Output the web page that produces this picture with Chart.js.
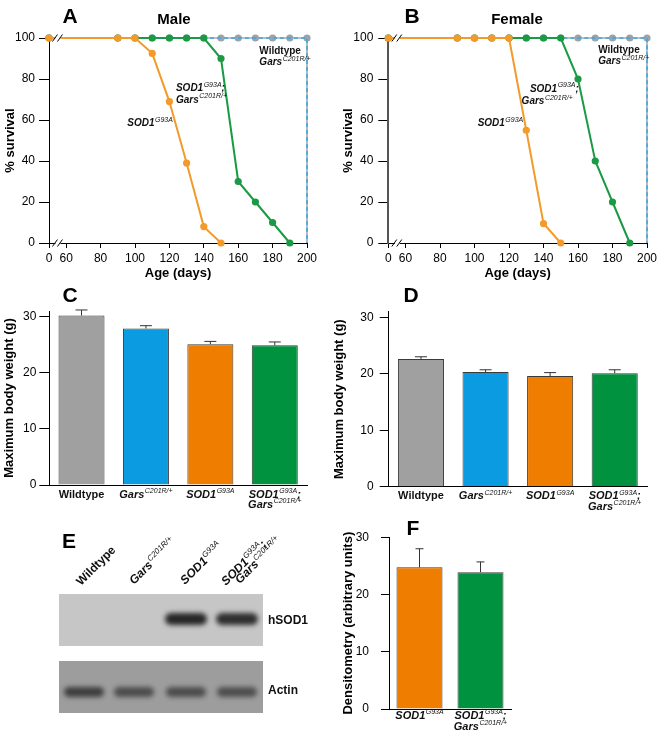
<!DOCTYPE html>
<html>
<head>
<meta charset="utf-8">
<title>Survival, body weight and hSOD1 levels</title>
<script src="https://cdn.jsdelivr.net/npm/chart.js@4.4.1/dist/chart.umd.min.js"></script>
<style>
  body { margin: 0; background: #fff; font-family: "Liberation Sans", Arial, sans-serif; }
  #fig { position: relative; width: 661px; height: 738px; overflow: hidden; }
  #fig canvas { position: absolute; }
  .lbl { position: absolute; font-weight: bold; color: #000; transform: translate(-50%, -50%); white-space: nowrap; line-height: 1; }
  .letter { font-size: 21px; }
  .ttl { font-size: 15px; }
</style>
</head>
<body>
<div id="fig">
  <canvas id="chartA" width="330" height="285" style="left:0;top:0"></canvas>
  <canvas id="chartB" width="331" height="285" style="left:330px;top:0"></canvas>
  <canvas id="chartC" width="330" height="230" style="left:0;top:280px"></canvas>
  <canvas id="chartD" width="331" height="230" style="left:330px;top:280px"></canvas>
  <canvas id="blot" width="330" height="238" style="left:0;top:500px"></canvas>
  <canvas id="chartF" width="331" height="238" style="left:330px;top:500px"></canvas>
  <div class="lbl letter" style="left:70px;top:15px">A</div>
  <div class="lbl ttl" style="left:174px;top:18px">Male</div>
  <div class="lbl letter" style="left:412px;top:15px">B</div>
  <div class="lbl ttl" style="left:517px;top:18px">Female</div>
  <div class="lbl letter" style="left:70px;top:294px">C</div>
  <div class="lbl letter" style="left:411px;top:294px">D</div>
  <div class="lbl letter" style="left:69px;top:540px">E</div>
  <div class="lbl letter" style="left:413px;top:527px">F</div>
</div>
<script>
// survival (%), ages in days; day 0 sits before the axis break
var ageTicks = [0, 60, 80, 100, 120, 140, 160, 180, 200];
var survTicks = [0, 20, 40, 60, 80, 100];

var maleSodDays = [0, 90, 100, 110, 120, 130, 140, 150];
var maleSodSurv = [100, 100, 100, 92.5, 69, 39, 8, 0];
var maleDoubleDays = [0, 90, 100, 110, 120, 130, 140, 150, 160, 170, 180, 190];
var maleDoubleSurv = [100, 100, 100, 100, 100, 100, 100, 90, 30, 20, 10, 0];

var femaleSodDays = [0, 90, 100, 110, 120, 130, 140, 150];
var femaleSodSurv = [100, 100, 100, 100, 100, 55, 9.5, 0];
var femaleDoubleDays = [0, 90, 100, 110, 120, 130, 140, 150, 160, 170, 180, 190];
var femaleDoubleSurv = [100, 100, 100, 100, 100, 100, 100, 100, 80, 40, 20, 0];

// controls all alive until the end of the study (day 200)
var controlDays = [0, 90, 100, 110, 120, 130, 140, 150, 160, 170, 180, 190, 200, 200];
var wildtypeSurv = [100, 100, 100, 100, 100, 100, 100, 100, 100, 100, 100, 100, 100, 0];
var garsSurv = [100, 100, 100, 100, 100, 100, 100, 100, 100, 100, 100, 100, 100, 0];

// body weight (g) and densitometry
var genotypes = ['Wildtype', '*Gars^C201R/+', '*SOD1^G93A', '*SOD1^G93A^;\n*Gars^C201R/+'];
var weightTicks = [0, 10, 20, 30];
var maleWeight = [30.2, 27.9, 25.1, 24.9];
var maleWeightErr = [1.0, 0.5, 0.5, 0.6];
var femaleWeight = [22.6, 20.3, 19.6, 20.1];
var femaleWeightErr = [0.4, 0.4, 0.6, 0.6];

var hsodGroups = ['*SOD1^G93A', '*SOD1^G93A^;\n*Gars^C201R/+'];
var hsodDensity = [24.75, 23.9];
var hsodDensityErr = [3.25, 1.8];

// western blot band strength per lane (0 = no band)
var hsodBand = [0, 0, 1, 0.95];
var actinBand = [0.95, 0.8, 0.8, 0.78];

var FAM = '"Liberation Sans", Arial, sans-serif';
Chart.defaults.font.family = FAM;
Chart.defaults.color = '#000';

function plain(markup) {
  return markup.replace(/\*/g, '').replace(/\^/g, '').replace('\n', ' ');
}

function toAxis(day) {
  return day === 0 ? 50 : day;
}

// bold text with an italic superscript: "*Base^sup^tail"
function drawRich(ctx, markup, x, y, align, size) {
  var italic = markup.charAt(0) === '*';
  var p = (italic ? markup.slice(1) : markup).split('^');
  var base = p[0], sup = p[1] || '', tail = p[2] || '';
  var baseFont = (italic ? 'italic ' : '') + 'bold ' + size + 'px ' + FAM;
  var supFont = 'italic ' + Math.round(size * 0.68) + 'px ' + FAM;
  ctx.save();
  ctx.font = baseFont;
  var wb = ctx.measureText(base).width, wt = ctx.measureText(tail).width;
  ctx.font = supFont;
  var ws = ctx.measureText(sup).width;
  var total = wb + ws + wt + (sup ? 0.5 : 0);
  var sx = align === 'center' ? x - total / 2 : (align === 'right' ? x - total : x);
  ctx.textAlign = 'left';
  ctx.textBaseline = 'alphabetic';
  ctx.fillStyle = '#111';
  ctx.font = baseFont;
  ctx.fillText(base, sx, y);
  ctx.font = supFont;
  ctx.fillText(sup, sx + wb + 0.5, y - size * 0.42);
  ctx.font = baseFont;
  ctx.fillText(tail, sx + wb + ws + 0.5, y);
  ctx.restore();
}

var noteText = {
  id: 'noteText',
  afterDatasetsDraw: function(chart, args, opts) {
    if (!opts.items) return;
    var xs = chart.scales.x, ys = chart.scales.y;
    opts.items.forEach(function(it) {
      drawRich(chart.ctx, it.text, xs.getPixelForValue(it.x), ys.getPixelForValue(it.y), it.align || 'left', 10);
    });
  }
};

var axisBreak = {
  id: 'axisBreak',
  afterDraw: function(chart, args, opts) {
    if (opts.at == null) return;
    var ctx = chart.ctx;
    var x = chart.scales.x.getPixelForValue(opts.at);
    [chart.chartArea.bottom, chart.scales.y.getPixelForValue(100)].forEach(function(y) {
      ctx.save();
      ctx.fillStyle = '#fff';
      ctx.fillRect(x - 3, y - 2, 5, 4);
      ctx.strokeStyle = '#000';
      ctx.lineWidth = 1;
      ctx.beginPath();
      ctx.moveTo(x - 6, y + 3.5); ctx.lineTo(x - 1, y - 3.5);
      ctx.moveTo(x - 1, y + 3.5); ctx.lineTo(x + 4, y - 3.5);
      ctx.stroke();
      ctx.restore();
    });
  }
};

var errorBars = {
  id: 'errorBars',
  afterDatasetsDraw: function(chart, args, opts) {
    if (!opts.errors) return;
    var ctx = chart.ctx, ys = chart.scales.y;
    var vals = chart.data.datasets[0].data;
    ctx.save();
    ctx.strokeStyle = '#333';
    ctx.lineWidth = 1;
    chart.getDatasetMeta(0).data.forEach(function(bar, i) {
      var y0 = ys.getPixelForValue(vals[i]);
      var y1 = ys.getPixelForValue(vals[i] + opts.errors[i]);
      ctx.beginPath();
      ctx.moveTo(bar.x, y0); ctx.lineTo(bar.x, y1);
      ctx.moveTo(bar.x - opts.cap, y1); ctx.lineTo(bar.x + opts.cap, y1);
      ctx.stroke();
    });
    ctx.restore();
  }
};

var richTicks = {
  id: 'richTicks',
  afterDraw: function(chart, args, opts) {
    if (!opts.labels) return;
    var xs = chart.scales.x;
    opts.labels.forEach(function(lab, i) {
      var x = xs.getPixelForTick(i);
      lab.split('\n').forEach(function(line, k) {
        drawRich(chart.ctx, line, x, chart.chartArea.bottom + opts.offset + k * opts.gap, 'center', 11);
      });
    });
  }
};

Chart.register(noteText, axisBreak, errorBars, richTicks);

function pts(days, surv) {
  return days.map(function(d, i) { return {x: toAxis(d), y: surv[i]}; });
}

function makeSurvival(id, sodDays, sodSurv, dblDays, dblSurv, cfg) {
  var last = controlDays.length - 1;
  return new Chart(document.getElementById(id), {
    type: 'line',
    data: {
      datasets: [{
        label: 'SOD1 G93A',
        data: pts(sodDays, sodSurv),
        borderColor: '#f39a2b', backgroundColor: '#f39a2b',
        borderWidth: 2, pointRadius: 3.6, pointBorderWidth: 0, clip: false
      }, {
        label: 'SOD1 G93A; Gars C201R/+',
        data: pts(dblDays, dblSurv),
        borderColor: '#1a9a44', backgroundColor: '#1a9a44',
        borderWidth: 2, pointRadius: 3.6, pointBorderWidth: 0, clip: false
      }, {
        label: 'Gars C201R/+',
        data: pts(controlDays, garsSurv),
        borderColor: '#3ba8de', backgroundColor: '#3ba8de',
        borderWidth: 1.6, borderDash: [4, 3], pointRadius: 0, clip: false
      }, {
        label: 'Wildtype',
        data: pts(controlDays, wildtypeSurv),
        borderColor: '#a3aab0', backgroundColor: '#9aa3ab',
        borderWidth: 1.6, pointBorderWidth: 0, clip: false,
        pointRadius: function(c) { return c.dataIndex === last ? 0 : 3.6; }
      }]
    },
    options: {
      responsive: false,
      animation: false,
      layout: {padding: {top: 38, right: cfg.padRight, left: 0, bottom: 0}},
      plugins: {
        legend: {display: false},
        tooltip: {enabled: false},
        noteText: {items: cfg.notes},
        axisBreak: {at: 55.5}
      },
      scales: {
        x: {
          type: 'linear', min: 50, max: 200,
          afterBuildTicks: function(s) { s.ticks = ageTicks.map(function(d) { return {value: toAxis(d)}; }); },
          afterFit: function(s) { s.height = 42; },
          ticks: {
            autoSkip: false, maxRotation: 0, padding: 3, font: {size: 12}, color: '#000',
            callback: function(v) { return v === 50 ? '0' : String(v); }
          },
          grid: {drawOnChartArea: false, tickLength: 5, color: '#000'},
          border: {color: '#000', width: 1},
          title: {display: true, text: 'Age (days)', font: {size: 13, weight: 'bold'}, color: '#000', padding: {top: 0, bottom: 4}}
        },
        y: {
          min: 0, max: 100,
          afterBuildTicks: function(s) { s.ticks = survTicks.map(function(v) { return {value: v}; }); },
          afterFit: function(s) { s.width = cfg.yW; },
          ticks: {padding: cfg.yTickPad, font: {size: 12}, color: '#000'},
          grid: {drawOnChartArea: false, tickLength: 10, color: '#000'},
          border: cfg.yBorder,
          title: {display: true, text: '% survival', font: {size: 13, weight: 'bold'}, color: '#000', padding: {top: cfg.yTitlePad, bottom: 0}}
        }
      }
    }
  });
}

function makeBars(id, labels, values, errors, colors, cfg) {
  return new Chart(document.getElementById(id), {
    type: 'bar',
    data: {
      labels: labels.map(plain),
      datasets: [{
        data: values,
        backgroundColor: colors,
        borderColor: '#3a3a3a',
        borderWidth: 1,
        categoryPercentage: 1,
        barPercentage: cfg.barPct
      }]
    },
    options: {
      responsive: false,
      animation: false,
      layout: {padding: {top: cfg.padTop, right: cfg.padRight, left: 0, bottom: 0}},
      plugins: {
        legend: {display: false},
        tooltip: {enabled: false},
        errorBars: {errors: errors, cap: cfg.cap},
        richTicks: {labels: labels, offset: cfg.labelOffset, gap: 10.5}
      },
      scales: {
        x: {
          ticks: {display: false},
          grid: {display: false, drawTicks: false},
          border: {color: '#000', width: 1},
          afterFit: function(s) { s.height = cfg.xH; }
        },
        y: {
          min: 0, max: cfg.max,
          afterBuildTicks: function(s) { s.ticks = weightTicks.map(function(v) { return {value: v}; }); },
          afterFit: function(s) { s.width = cfg.yW; },
          ticks: {padding: cfg.yTickPad, font: {size: 12}, color: '#000'},
          grid: {drawOnChartArea: false, tickLength: cfg.tickLen, color: '#000'},
          border: {color: '#000', width: 1},
          title: {display: true, text: cfg.yTitle, font: {size: 13, weight: 'bold'}, color: '#000', padding: {top: cfg.yTitlePad, bottom: 0}}
        }
      }
    }
  });
}

function drawBlot() {
  var ctx = document.getElementById('blot').getContext('2d');
  var lanes = [84, 134, 186, 237];
  ctx.fillStyle = '#c6c6c6';
  ctx.fillRect(59, 94, 204, 52);
  ctx.fillStyle = '#9d9d9d';
  ctx.fillRect(59, 161, 204, 52);
  ctx.save();
  ctx.beginPath();
  ctx.rect(59, 94, 204, 52);
  ctx.rect(59, 161, 204, 52);
  ctx.clip();
  ctx.filter = 'blur(2.4px)';
  ctx.fillStyle = '#262626';
  hsodBand.forEach(function(v, i) {
    if (!v) return;
    ctx.globalAlpha = v;
    ctx.beginPath();
    ctx.roundRect(lanes[i] - 21, 113, 42, 12, 6);
    ctx.fill();
  });
  ctx.fillStyle = '#383838';
  actinBand.forEach(function(v, i) {
    ctx.globalAlpha = v;
    ctx.beginPath();
    ctx.roundRect(lanes[i] - 20, 187, 40, 10, 5);
    ctx.fill();
  });
  ctx.restore();

  drawRich(ctx, 'hSOD1', 268, 124, 'left', 12);
  drawRich(ctx, 'Actin', 268, 194, 'left', 12);

  var origins = [[81, 86], [134, 85], [185, 85], [226, 86]];
  genotypes.forEach(function(lab, i) {
    ctx.save();
    ctx.translate(origins[i][0], origins[i][1]);
    ctx.rotate(-Math.PI / 4);
    lab.split('\n').forEach(function(line, k) {
      drawRich(ctx, line, k * 11, k * 8.5, 'left', 12);
    });
    ctx.restore();
  });
}

makeSurvival('chartA', maleSodDays, maleSodSurv, maleDoubleDays, maleDoubleSurv, {
  padRight: 23, yW: 49, yTickPad: 4, yTitlePad: 2.2,
  yBorder: {color: '#000', width: 1},
  notes: [
    {text: 'Wildtype', x: 172.3, y: 92},
    {text: '*Gars^C201R/+', x: 172.3, y: 86.7},
    {text: '*SOD1^G93A^;', x: 123.8, y: 74.1},
    {text: '*Gars^C201R/+', x: 123.8, y: 68.5},
    {text: '*SOD1^G93A', x: 95.5, y: 57.1}
  ]
});

makeSurvival('chartB', femaleSodDays, femaleSodSurv, femaleDoubleDays, femaleDoubleSurv, {
  padRight: 14, yW: 58.3, yTickPad: 5, yTitlePad: 10.2,
  yBorder: {color: '#555', width: 2},
  notes: [
    {text: 'Wildtype', x: 171.7, y: 92.5},
    {text: '*Gars^C201R/+', x: 171.7, y: 87.2},
    {text: '*SOD1^G93A^;', x: 132.1, y: 73.9},
    {text: '*Gars^C201R/+', x: 127.3, y: 67.7},
    {text: '*SOD1^G93A', x: 101.8, y: 57.1}
  ]
});

var barColors = ['#a0a0a0', '#0b9be0', '#ef7d00', '#00923f'];

makeBars('chartC', genotypes, maleWeight, maleWeightErr, barColors, {
  padTop: 31.1, padRight: 23, yW: 49.3, xH: 25, max: 31, barPct: 0.714,
  yTickPad: 3, tickLen: 10, yTitlePad: 1.2, cap: 6, labelOffset: 12.5,
  yTitle: 'Maximum body weight (g)'
});

makeBars('chartD', genotypes, femaleWeight, femaleWeightErr, barColors, {
  padTop: 31.6, padRight: 14, yW: 58.7, xH: 23.3, max: 31, barPct: 0.714,
  yTickPad: 6, tickLen: 9, yTitlePad: 1.2, cap: 6, labelOffset: 12.5,
  yTitle: 'Maximum body weight (g)'
});

makeBars('chartF', hsodGroups, hsodDensity, hsodDensityErr, ['#ef7d00', '#00923f'], {
  padTop: 37.3, padRight: 150, yW: 59, xH: 29, max: 30, barPct: 0.754,
  yTickPad: 12, tickLen: 8, yTitlePad: 10.2, cap: 4, labelOffset: 10,
  yTitle: 'Densitometry (arbitrary units)'
});

drawBlot();
</script>
</body>
</html>
